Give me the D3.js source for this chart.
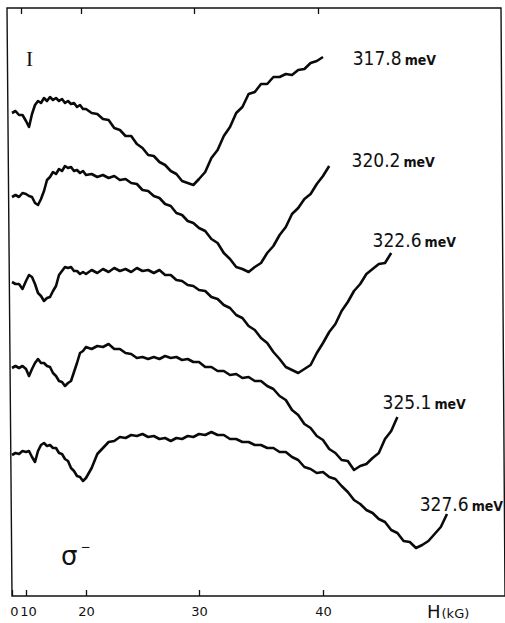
<!DOCTYPE html>
<html>
<head>
<meta charset="utf-8">
<script src="https://cdn.jsdelivr.net/npm/d3@7"></script>
<style>
body { margin: 0; background: #fff; }
svg { display: block; }
.axis text { font-family: "DejaVu Sans", sans-serif; font-size: 13px; fill: #111; }
.axis line { stroke: #111; stroke-width: 1.3; }
.trace { fill: none; stroke: #0a0a0a; stroke-width: 2.6; stroke-linejoin: round; }
.energy { font-family: "DejaVu Sans Condensed", "DejaVu Sans", sans-serif; fill: #111; }
</style>
</head>
<body>
<svg id="chart" width="505" height="623"></svg>
<script>
// magnetic field grid (kG), shared by all traces
var fieldKG = [0, 2.5, 5, 7.5, 10,
    10.5, 11, 11.5, 12, 12.5, 13, 13.5, 14, 14.5, 15, 15.5, 16, 16.5, 17, 17.5, 18, 18.5, 19, 19.5, 20,
    20.5, 21, 21.5, 22, 22.5, 23, 23.5, 24, 24.5, 25, 25.5, 26, 26.5, 27, 27.5, 28, 28.5, 29, 29.5, 30,
    30.5, 31, 31.5, 32, 32.5, 33, 33.5, 34, 34.5, 35, 35.5, 36, 36.5, 37, 37.5, 38, 38.5, 39, 39.5, 40,
    40.5, 41, 41.5, 42, 42.5, 43, 43.5, 44, 44.5, 45, 45.5, 46, 46.5, 47, 47.5, 48, 48.5, 49, 49.5, 50];

// photon energies of the traces
var energies = ["317.8", "320.2", "322.6", "325.1", "327.6"];

// intensity (arb. units, traces offset vertically), one value per field point
var trace3178 = [48.3, 48.5, 48.1, 48.1, 47.5, 46.9, 48.2, 49.1, 49.5, 49.3, 49.8, 49.5, 49.9, 49.6, 49.8, 49.5, 49.7, 49.3, 49.5, 49.2,
    49.3, 48.9, 49.1, 48.7, 48.7, 48.3, 48.2, 47.7, 47.6, 46.8, 46.6, 46.0, 46.0, 45.2, 44.8, 44.1, 44.0, 43.4, 43.1, 42.5,
    42.2, 41.5, 41.3, 41.1, 41.7, 42.4, 43.8, 44.6, 46.0, 46.9, 48.3, 48.9, 50.2, 50.4, 51.2, 51.2, 51.9, 51.9, 52.2, 52.1,
    52.6, 52.7, 53.3, 53.5, 53.9];
var trace3202 = [39.9, 40.1, 39.9, 40.3, 40.2, 40.0, 39.9, 39.3, 39.1, 39.7, 40.5, 41.6, 41.9, 42.4, 42.2, 42.7, 42.5, 43.0, 42.8, 42.9,
    42.5, 42.6, 42.3, 42.5, 42.1, 42.2, 41.9, 42.1, 41.8, 42.0, 41.6, 41.7, 41.3, 41.2, 40.6, 40.5, 40.0, 39.8, 39.2, 39.0,
    38.3, 38.1, 37.5, 37.3, 36.8, 36.5, 35.7, 35.3, 34.3, 33.7, 32.9, 32.7, 32.4, 32.9, 33.3, 34.3, 35.0, 36.1, 36.9, 38.2,
    38.8, 39.7, 40.2, 41.2, 42.0, 43.0];
var trace3226 = [31.4, 31.2, 31.2, 30.7, 31.5, 32.1, 31.9, 31.2, 30.3, 30.0, 29.5, 29.8, 29.9, 30.5, 31.0, 32.1, 32.5, 32.9, 32.8, 32.9,
    32.5, 32.5, 32.2, 32.4, 32.2, 32.6, 32.3, 32.7, 32.4, 32.8, 32.5, 32.7, 32.4, 32.8, 32.5, 32.6, 32.3, 32.6, 32.1, 32.1,
    31.6, 31.5, 31.1, 31.0, 30.6, 30.5, 29.9, 29.7, 29.1, 28.8, 28.1, 27.8, 27.0, 26.6, 25.8, 25.3, 24.4, 23.7, 22.9, 22.6,
    22.3, 22.7, 23.1, 24.3, 25.3, 26.4, 27.2, 28.5, 29.4, 30.5, 31.2, 32.2, 32.7, 33.2, 33.3, 34.3];
var trace3251 = [22.8, 23.0, 22.8, 23.0, 22.7, 22.0, 22.7, 23.3, 23.7, 23.3, 23.3, 23.0, 22.9, 22.3, 22.0, 21.5, 21.4, 21.0, 21.3, 21.5,
    22.4, 23.3, 24.3, 24.5, 24.9, 24.7, 25.0, 24.9, 25.2, 24.7, 24.7, 24.3, 24.2, 23.8, 23.9, 23.7, 23.9, 23.7, 24.0, 23.8,
    23.9, 23.6, 23.7, 23.4, 23.4, 22.9, 22.9, 22.5, 22.5, 22.1, 22.2, 21.8, 21.9, 21.5, 21.5, 21.0, 20.7, 20.0, 19.6, 18.6,
    18.1, 17.2, 16.8, 16.0, 15.6, 14.7, 14.3, 13.6, 13.5, 12.6, 13.0, 13.2, 13.8, 14.3, 15.7, 16.5, 17.9];
var trace3276 = [14.1, 14.3, 14.2, 14.5, 14.4, 14.5, 13.9, 13.4, 14.5, 15.1, 15.3, 15.0, 15.1, 14.8, 14.8, 14.3, 14.2, 13.7, 13.5, 12.8,
    12.5, 12.0, 11.9, 11.5, 11.8, 12.8, 14.2, 14.8, 15.4, 15.5, 15.9, 15.8, 16.1, 16.0, 16.2, 15.9, 16.0, 15.7, 15.8, 15.5,
    15.8, 15.7, 16.0, 15.9, 16.2, 16.1, 16.4, 16.1, 16.1, 15.7, 15.7, 15.4, 15.4, 15.1, 15.1, 14.8, 14.8, 14.4, 14.4, 13.9,
    13.6, 12.9, 12.7, 12.3, 12.4, 11.9, 11.7, 11.0, 10.4, 9.6, 9.2, 8.6, 8.3, 7.7, 7.4, 6.6, 6.3, 5.5, 5.4, 4.8,
    5.1, 5.5, 6.2, 6.9, 8.2];

var tickValues = [0, 10, 20, 30, 40];

var traces = [trace3178, trace3202, trace3226, trace3251, trace3276];

var svg = d3.select('#chart');

// the field sweep on the original recording is not linear
var xScale = d3.scaleLinear()
    .domain([0, 10, 20, 30, 40, 50])
    .range([12, 26, 86, 199, 323, 447]);

var yScale = d3.scaleLinear()
    .domain([0, 58.8])
    .range([596, 8]);

// frame (scan is a little skewed)
svg.append('path')
    .attr('d', 'M7,8 L501,8 L505,596 L12,596 Z')
    .attr('fill', 'none')
    .attr('stroke', '#111')
    .attr('stroke-width', 1.4);

// bottom axis: ticks inward, labels below
var bottomAxis = svg.append('g')
    .attr('class', 'axis')
    .attr('transform', 'translate(0, 596)')
    .call(d3.axisBottom(xScale).tickValues(tickValues).tickSizeInner(-6).tickSizeOuter(0).tickPadding(11));
bottomAxis.select('.domain').remove();
// nudge the two crowded labels near the corner
bottomAxis.selectAll('.tick text').filter(function(d) { return d <= 10; }).attr('dx', 2);

// top axis: ticks only
var topAxis = svg.append('g')
    .attr('class', 'axis')
    .attr('transform', 'translate(-5, 8)')
    .call(d3.axisBottom(xScale).tickValues(tickValues.slice(1)).tickSizeInner(6).tickSizeOuter(0).tickFormat(''));
topAxis.select('.domain').remove();

// traces
var line = d3.line()
    .x(function(d) { return xScale(d[0]); })
    .y(function(d) { return yScale(d[1]); });

traces.forEach(function(values) {
    var points = values.map(function(v, i) { return [fieldKG[i], v]; });
    svg.append('path')
        .datum(points)
        .attr('class', 'trace')
        .attr('d', line);
});

// energy labels, placed in data units
var labelPos = [[42.4, 53.1], [42.3, 42.9], [44.0, 34.9], [44.8, 18.7], [47.8, 8.5]];

energies.forEach(function(e, i) {
    var t = svg.append('text')
        .attr('class', 'energy')
        .attr('x', xScale(labelPos[i][0]))
        .attr('y', yScale(labelPos[i][1]));
    t.append('tspan').attr('font-size', 19).text(e);
    t.append('tspan').attr('dx', 3).attr('font-size', 14).attr('font-weight', 'bold').text('meV');
});

// axis title
var title = svg.append('text')
    .attr('x', 427)
    .attr('y', 618)
    .attr('font-family', '"DejaVu Sans", sans-serif')
    .attr('fill', '#111');
title.append('tspan').attr('font-size', 18).text('H');
title.append('tspan').attr('font-size', 13).attr('dx', 1).text('(kG)');

// intensity marker and polarisation
svg.append('text')
    .attr('x', 26)
    .attr('y', 66)
    .attr('font-family', '"Liberation Serif", serif')
    .attr('font-size', 21)
    .attr('fill', '#111')
    .text('I');

var sigma = svg.append('text')
    .attr('x', 61)
    .attr('y', 565)
    .attr('font-family', '"DejaVu Sans", sans-serif')
    .attr('font-size', 26)
    .attr('fill', '#111');
sigma.append('tspan').text('σ');
sigma.append('tspan').attr('font-size', 12).attr('dx', 3).attr('dy', -14).text('−');
</script>
</body>
</html>
